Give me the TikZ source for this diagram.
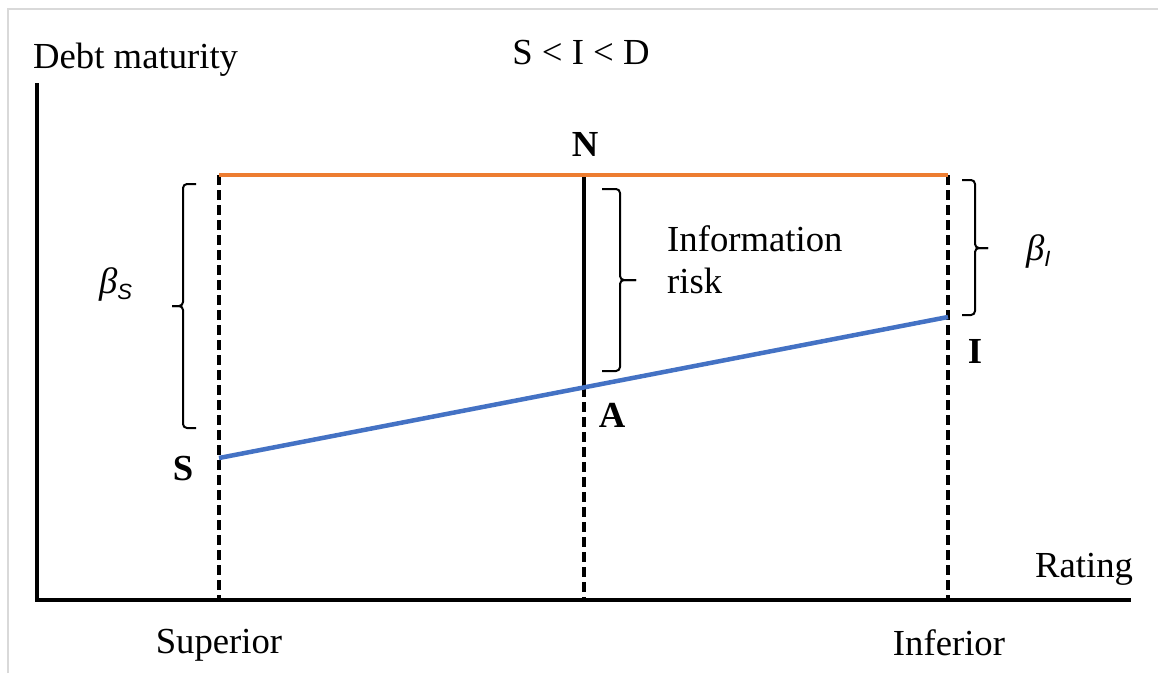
\documentclass[tikz,border=0pt]{standalone}
\usepackage{fontspec}
\setmainfont{Liberation Serif}
\newfontfamily\subsans{Liberation Sans}
\definecolor{orng}{HTML}{ED7D31}
\definecolor{blu}{HTML}{4472C4}
\definecolor{frame}{HTML}{D9D9D9}
\newcommand{\betalab}[1]{{\itshape β}\raisebox{-6pt}{\subsans\itshape\fontsize{22}{26}\selectfont #1}}
\begin{document}
\begin{tikzpicture}[x=1pt,y=-1pt,
  axis/.style={line width=3.5pt},
  guide/.style={line width=3.5pt,dash pattern=on 10pt off 5pt},
  bracepath/.style={line width=2pt,rounded corners=4pt},
  lbl/.style={inner sep=0pt,anchor=base,font=\fontsize{36.7}{44}\selectfont},
  pt/.style={lbl,font=\fontsize{36.7}{44}\selectfont\bfseries}]
\useasboundingbox (0,0) rectangle (1158,675);
% light frame
\draw[frame,line width=2pt] (8,673) -- (8,8.5) -- (1158,8.5);
% coordinates
\coordinate (O) at (37,600);
\coordinate (Ytop) at (37,83);
\coordinate (Xend) at (1131,600);
\coordinate (S) at (219,458);
\coordinate (I) at (948,317);
\coordinate (A) at (584,387.4);
\coordinate (Ntop) at (584,175);
\coordinate (Stop) at (219,175);
\coordinate (Itop) at (948,175);
\coordinate (Sbot) at (219,600);
\coordinate (Abot) at (584,600);
\coordinate (Ibot) at (948,600);
% guides
\draw[guide] (Stop) -- (Sbot);
\draw[guide] (Itop) -- (Ibot);
\draw[guide] (A) -- (Abot);
\draw[line width=3.5pt] (Ntop) -- (A);
% orange and blue lines
\draw[orng,line width=4.5pt] (Stop) -- (Itop);
\draw[blu,line width=4.5pt] (S) -- (I);
% axes
\draw[axis] (Ytop) -- (O) -- (Xend);
% braces
\draw[bracepath] (196,184) -- (183,184) -- (183,306) -- (172,306);
\draw[bracepath] (196,428) -- (183,428) -- (183,306) -- (172,306);
\draw[bracepath] (602,189) -- (620,189) -- (620,280) -- (636,280);
\draw[bracepath] (602,371) -- (620,371) -- (620,280) -- (636,280);
\draw[bracepath] (962,180) -- (975,180) -- (975,248) -- (988,248);
\draw[bracepath] (962,315) -- (975,315) -- (975,248) -- (988,248);
% labels
\node[lbl,anchor=base west] (ylab) at (33,68) {Debt maturity};
\node[lbl] (order) at (581,64) {S < I < D};
\node[pt] (nN) at (585,156) {N};
\node[pt] (nA) at (612,427) {A};
\node[pt] (nS) at (183,480) {S};
\node[pt] (nI) at (975,363) {I};
\node[lbl,anchor=base west] (bS) at (99,293) {\betalab{S}};
\node[lbl,anchor=base west] (bI) at (1026,260) {\betalab{I}};
\node[lbl,anchor=base west] (info) at (667,251) {Information};
\node[lbl,anchor=base west] (risk) at (667,293) {risk};
\node[lbl,anchor=base west] (rating) at (1035,577) {Rating};
\node[lbl] (sup) at (219,653) {Superior};
\node[lbl] (inf) at (949,655) {Inferior};
\end{tikzpicture}
\end{document}
